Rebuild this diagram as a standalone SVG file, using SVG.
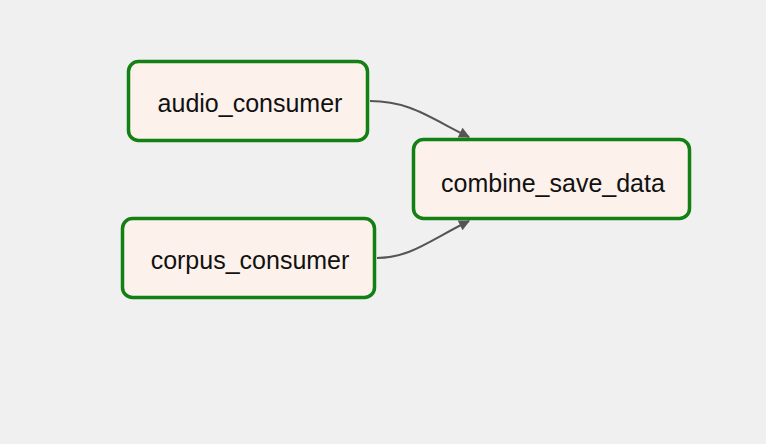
<svg xmlns="http://www.w3.org/2000/svg" width="766" height="444" viewBox="0 0 766 444">
<style>
.node rect{fill:#fdf1ec;stroke:#138013;stroke-width:3.5}
.node text{font-family:"Liberation Sans",Arial,sans-serif;font-size:25px;fill:#111;text-anchor:middle}
.edge{fill:none;stroke:#555;stroke-width:2}
</style>
<defs>
<marker id="ah" viewBox="0 0 10 10" refX="9" refY="5" markerWidth="12" markerHeight="11" markerUnits="userSpaceOnUse" orient="auto"><path d="M0,0L10,5L0,10z" fill="#555"/></marker>
</defs>
<rect width="766" height="444" fill="#f0f0f0"/>
<g id="connectors">
<path class="edge" d="M370,101 C410,101 430,118 469,137" marker-end="url(#ah)"/>
<path class="edge" d="M377,258 C410,258 430,240 469,221" marker-end="url(#ah)"/>
</g>
<g id="audio_consumer" class="node"><rect x="128.5" y="61.5" width="239" height="79" rx="10"/><text x="250" y="112">audio_consumer</text></g>
<g id="corpus_consumer" class="node"><rect x="122.5" y="218.5" width="252" height="79" rx="10"/><text x="250" y="269">corpus_consumer</text></g>
<g id="combine_save_data" class="node"><rect x="413.5" y="139.5" width="276" height="79" rx="10"/><text x="553" y="192">combine_save_data</text></g>
</svg>
